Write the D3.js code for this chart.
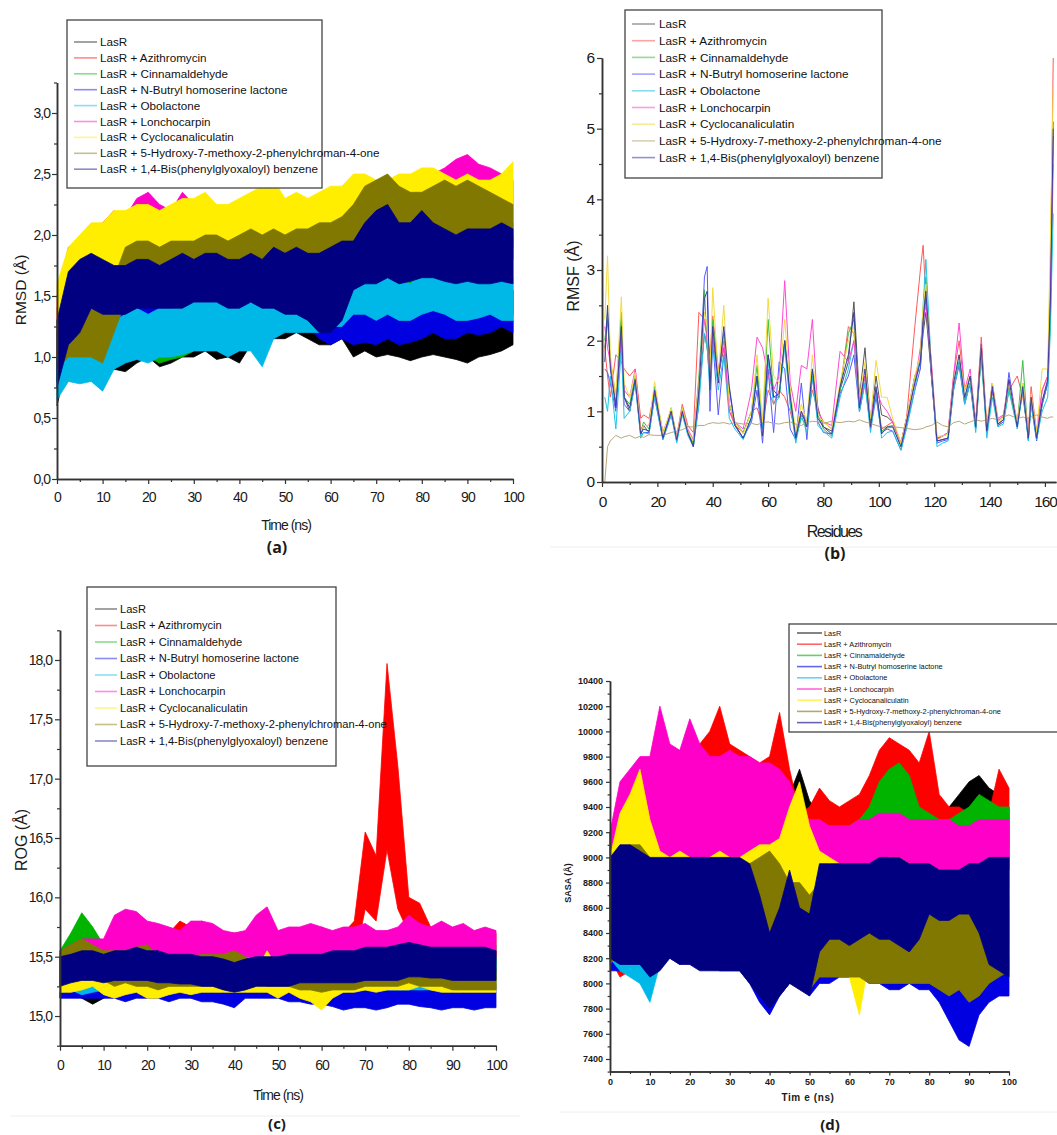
<!DOCTYPE html>
<html>
<head>
<meta charset="utf-8">
<script src="https://cdn.jsdelivr.net/npm/d3@7"></script>
<style>
  body { margin: 0; background: #fff; }
  svg { display: block; font-family: Arial, "Liberation Sans", sans-serif; }
</style>
</head>
<body>
<svg id="fig" width="1057" height="1135"></svg>
<script>
// ---------- shared ----------
const seriesNames = [
  'LasR',
  'LasR + Azithromycin',
  'LasR + Cinnamaldehyde',
  'LasR + N-Butryl homoserine lactone',
  'LasR + Obolactone',
  'LasR + Lonchocarpin',
  'LasR + Cyclocanaliculatin',
  'LasR + 5-Hydroxy-7-methoxy-2-phenylchroman-4-one',
  'LasR + 1,4-Bis(phenylglyoxaloyl) benzene'
];
const bandColors = ['#000000', '#ff0000', '#00b400', '#0000e0', '#00b8e8', '#ff00c8', '#ffee00', '#807800', '#000080'];
const lineColors = ['#555555', '#ff5a5a', '#3cc03c', '#5a5aff', '#20c4e4', '#ff4ad4', '#f2dc40', '#b8a878', '#3c3ca0'];

// time samples (ns) for the trajectory panels
const timeNs = [0, 2.5, 5, 7.5, 10, 12.5, 15, 17.5, 20, 22.5, 25, 27.5, 30, 32.5, 35, 37.5, 40, 42.5, 45, 47.5,
  50, 52.5, 55, 57.5, 60, 62.5, 65, 67.5, 70, 72.5, 75, 77.5, 80, 82.5, 85, 87.5, 90, 92.5, 95, 97.5, 100];

// ---------- (a) RMSD, lower / upper envelope per series ----------
const rmsdLow = [
  [0.6,1.0,1.0,0.95,0.9,0.9,0.88,0.95,1.0,0.92, 0.95,1.0,1.0,1.05,0.98,1.0,0.95,1.1,1.1,1.15, 1.15,1.2,1.15,1.1,1.1,1.15,1.0,1.05,1.0,1.02, 1.0,0.97,1.0,1.02,1.0,0.98,0.95,1.0,1.02,1.05, 1.1],
  [0.9,1.4,1.5,1.5,1.5,1.55,1.5,1.6,1.55,1.55, 1.6,1.6,1.6,1.6,1.6,1.55,1.6,1.65,1.65,1.7, 1.7,1.75,1.7,1.7,1.7,1.75,1.7,1.75,1.75,1.8, 1.75,1.75,1.8,1.85,1.8,1.85,1.85,1.8,1.8,1.85, 1.8],
  [0.8,1.0,1.05,1.0,1.0,1.05,1.0,1.05,1.0,0.95, 0.98,1.0,1.05,1.1,1.1,1.1,1.1,1.2,1.2,1.25, 1.25,1.3,1.25,1.2,1.2,1.25,1.2,1.25,1.3,1.3, 1.3,1.3,1.35,1.35,1.3,1.35,1.35,1.3,1.4,1.4, 1.35],
  [0.8,1.1,1.15,1.1,1.15,1.2,1.2,1.25,1.2,1.2, 1.25,1.25,1.25,1.3,1.3,1.25,1.3,1.3,1.3,1.35, 1.3,1.3,1.25,1.15,1.1,1.15,1.1,1.12,1.1,1.15, 1.1,1.12,1.15,1.2,1.15,1.15,1.2,1.18,1.2,1.25, 1.2],
  [0.65,0.8,0.78,0.8,0.72,0.9,0.95,0.98,0.95,1.0, 1.0,1.02,1.05,1.05,1.05,1.0,1.05,1.05,0.92,1.15, 1.2,1.2,1.2,1.2,1.25,1.25,1.35,1.35,1.3,1.35, 1.3,1.3,1.35,1.38,1.35,1.3,1.3,1.32,1.35,1.3, 1.3],
  [1.0,1.45,1.5,1.5,1.6,1.65,1.6,1.7,1.75,1.7, 1.7,1.75,1.7,1.7,1.65,1.6,1.65,1.6,1.6,1.6, 1.6,1.65,1.6,1.6,1.6,1.65,1.7,1.75,1.75,1.75, 1.8,1.8,1.85,1.9,1.95,2.0,2.0,1.95,1.95,1.9, 1.9],
  [1.0,1.4,1.5,1.55,1.6,1.65,1.7,1.75,1.75,1.7, 1.75,1.8,1.8,1.8,1.75,1.75,1.8,1.8,1.85,1.85, 1.8,1.8,1.75,1.8,1.85,1.85,1.9,1.95,1.95,1.9, 1.95,2.0,2.0,2.0,2.0,1.95,1.95,1.95,1.95,2.0, 2.0],
  [0.9,1.0,1.0,1.0,0.95,1.2,1.45,1.5,1.5,1.5, 1.55,1.55,1.55,1.6,1.6,1.6,1.65,1.7,1.65,1.65, 1.6,1.65,1.65,1.7,1.7,1.75,1.8,1.85,1.9,1.9, 1.9,1.85,1.85,1.9,1.95,1.95,1.95,1.9,1.9,1.9, 1.85],
  [0.75,1.1,1.2,1.4,1.35,1.35,1.35,1.4,1.4,1.4, 1.4,1.4,1.45,1.45,1.45,1.4,1.4,1.45,1.4,1.4, 1.35,1.35,1.3,1.2,1.2,1.3,1.55,1.6,1.6,1.65, 1.6,1.62,1.65,1.65,1.62,1.6,1.62,1.6,1.6,1.62, 1.6]
];
const rmsdHigh = [
  [1.0,1.3,1.35,1.3,1.25,1.25,1.2,1.3,1.3,1.25, 1.3,1.35,1.3,1.35,1.3,1.3,1.3,1.4,1.4,1.45, 1.45,1.5,1.45,1.45,1.4,1.45,1.3,1.35,1.3,1.35, 1.3,1.3,1.35,1.35,1.3,1.3,1.3,1.3,1.35,1.35, 1.3],
  [1.4,1.8,1.85,1.9,1.9,1.95,1.9,2.0,1.95,1.95, 2.0,2.0,2.0,2.0,2.0,1.95,2.0,2.05,2.05,2.1, 2.1,2.1,2.05,2.05,2.05,2.1,2.0,2.05,2.1,2.1, 2.05,2.1,2.15,2.2,2.15,2.2,2.2,2.15,2.1,2.15, 2.1],
  [1.2,1.4,1.45,1.4,1.35,1.4,1.4,1.45,1.4,1.35, 1.4,1.4,1.45,1.5,1.5,1.5,1.5,1.6,1.6,1.65, 1.65,1.7,1.6,1.6,1.6,1.65,1.7,1.8,1.85,1.8, 1.8,1.75,1.8,1.8,1.75,1.8,1.8,1.85,1.9,1.95, 1.85],
  [1.2,1.5,1.55,1.5,1.55,1.6,1.6,1.65,1.6,1.6, 1.65,1.65,1.65,1.7,1.7,1.65,1.7,1.7,1.7,1.75, 1.7,1.7,1.65,1.6,1.55,1.6,1.5,1.55,1.5,1.55, 1.5,1.5,1.55,1.6,1.5,1.5,1.55,1.55,1.55,1.6, 1.55],
  [1.0,1.15,1.2,1.2,1.15,1.3,1.35,1.4,1.35,1.4, 1.4,1.45,1.5,1.45,1.45,1.4,1.45,1.45,1.4,1.5, 1.55,1.5,1.5,1.5,1.55,1.6,1.65,1.7,1.6,1.7, 1.65,1.6,1.7,1.72,1.68,1.65,1.65,1.68,1.7,1.65, 1.65],
  [1.5,1.9,1.95,2.0,2.1,2.2,2.15,2.3,2.35,2.25, 2.2,2.35,2.25,2.2,2.15,2.1,2.15,2.1,2.05,2.1, 2.05,2.1,2.05,2.05,2.1,2.2,2.3,2.35,2.3,2.3, 2.3,2.35,2.4,2.5,2.55,2.62,2.66,2.58,2.55,2.5, 2.45],
  [1.6,1.9,2.0,2.1,2.1,2.2,2.2,2.25,2.25,2.2, 2.25,2.3,2.3,2.35,2.25,2.25,2.3,2.35,2.4,2.45, 2.3,2.35,2.3,2.35,2.4,2.4,2.5,2.5,2.45,2.45, 2.5,2.5,2.55,2.55,2.5,2.45,2.5,2.45,2.45,2.5, 2.6],
  [1.3,1.45,1.5,1.45,1.4,1.65,1.9,1.95,1.95,1.9, 1.95,1.95,1.95,2.0,2.0,1.95,2.0,2.05,2.0,2.05, 2.0,2.05,2.05,2.1,2.1,2.15,2.25,2.4,2.45,2.5, 2.4,2.35,2.35,2.4,2.45,2.4,2.45,2.4,2.35,2.3, 2.25],
  [1.3,1.7,1.8,1.85,1.8,1.75,1.75,1.8,1.8,1.75, 1.8,1.85,1.8,1.85,1.85,1.8,1.8,1.85,1.8,1.9, 1.85,1.9,1.85,1.85,1.9,1.95,1.95,2.1,2.2,2.25, 2.1,2.1,2.2,2.1,2.05,2.0,2.05,2.05,2.05,2.1, 2.05]
];

// ---------- (b) RMSF per residue ----------
const residues = [1,2,3,5,7,8,10,12,14,15, 17,19,22,25,27,29,31,33,35,37, 38,39,40,42,44,46,48,51,54,56,
  58,60,62,64,66,68,70,72,74,76, 78,80,83,86,89,91,93,95,97,99, 101,103,105,108,110,113,115,116,117,119,
  121,123,125,127,129,131,133,135,137,139, 141,143,145,147,150,152,154,155,157,159, 161,162,163];
const rmsfValues = [
  [1.9,2.3,1.7,1.1,2.3,1.2,1.0,1.45,0.68,0.8, 0.7,1.25,0.62,1.0,0.58,1.05,0.72,0.52,1.25,2.1, 1.9,1.5,2.0,1.5,1.9,1.1,0.82,0.62,0.9,1.5,
   0.75,1.8,1.3,1.2,2.0,1.25,0.6,0.95,0.85,1.6, 1.05,0.78,0.72,1.3,1.7,2.55,1.2,1.9,0.85,1.5, 0.95,0.92,0.85,0.55,0.9,1.5,1.7,2.1,2.4,1.5,
   0.58,0.6,0.62,1.35,1.7,1.15,1.4,0.78,1.8,0.72, 1.3,0.82,0.88,1.35,0.82,1.3,0.62,1.15,0.62,1.1, 1.4,2.4,4.9],
  [1.9,1.5,1.2,1.8,1.7,1.6,1.5,1.6,0.9,0.95, 0.9,1.3,0.7,1.0,0.65,1.1,0.8,0.7,2.4,2.3, 2.1,1.8,2.35,1.6,1.9,1.0,0.8,0.7,1.0,1.05,
   0.8,1.3,1.1,1.3,1.2,1.0,0.7,1.0,0.85,1.3, 1.0,0.85,0.75,1.3,2.2,2.1,1.2,1.5,0.8,1.3, 0.75,0.8,0.85,0.55,0.9,2.2,3.0,3.35,2.6,1.5,
   0.6,0.65,0.7,1.5,2.0,1.3,1.5,0.85,2.05,0.8, 1.3,0.85,0.95,1.3,1.5,1.2,0.7,1.35,0.7,1.3, 1.5,3.0,6.0],
  [2.0,2.4,1.7,1.2,2.4,1.2,1.1,1.5,0.7,0.85, 0.75,1.35,0.65,1.05,0.6,1.0,0.72,0.55,1.5,2.72, 1.9,1.4,2.3,1.5,2.1,1.1,0.85,0.7,1.0,1.65,
   0.78,2.3,1.2,1.2,2.0,1.1,0.62,0.9,0.8,1.5, 0.95,0.75,0.65,1.3,2.1,2.3,1.0,1.5,0.8,1.3, 0.72,0.78,0.8,0.5,0.8,1.5,1.6,2.2,2.9,1.55,
   0.62,0.65,0.68,1.4,1.7,1.15,1.5,0.8,1.8,0.75, 1.4,0.8,0.85,1.3,0.8,1.72,0.6,1.2,0.62,1.1, 1.4,2.3,4.5],
  [1.6,1.55,1.4,1.0,2.0,1.1,1.0,1.4,0.65,0.7, 0.7,1.2,0.6,0.95,0.58,1.0,0.68,0.5,1.1,2.9, 3.05,1.0,2.0,0.95,1.8,1.3,0.8,0.62,0.85,1.3,
   0.55,1.6,0.7,1.7,1.6,0.75,0.6,1.4,0.6,1.5, 0.85,0.7,0.68,1.25,1.5,1.8,1.0,1.4,0.75,1.2, 0.7,0.75,0.72,0.45,0.8,1.3,1.6,2.2,2.6,1.5,
   0.55,0.58,0.6,1.3,1.65,1.1,1.4,0.75,1.95,0.7, 1.3,0.8,0.85,1.55,0.78,1.3,0.6,1.1,0.58,1.1, 1.4,2.6,5.1],
  [1.2,1.0,1.5,0.75,1.9,0.9,1.0,1.4,0.62,0.7, 0.68,1.2,0.6,0.95,0.55,0.95,0.66,0.5,1.1,2.1, 1.9,1.3,2.0,1.3,1.8,0.9,0.75,0.6,0.9,1.5,
   0.75,1.7,1.1,1.2,1.9,1.1,0.55,0.95,0.7,1.5, 0.8,0.72,0.62,1.2,1.6,2.0,1.0,1.4,0.7,1.3, 0.62,0.7,0.72,0.45,0.75,1.3,1.8,2.5,3.15,1.6,
   0.5,0.55,0.58,1.3,1.7,1.1,1.4,0.7,1.8,0.62, 1.2,0.78,0.82,1.3,0.75,1.3,0.58,1.1,0.6,1.0, 1.2,2.2,3.8],
  [2.2,1.9,1.7,1.2,2.1,1.3,1.2,1.6,0.75,0.8, 0.8,1.3,0.7,1.0,0.65,1.0,0.75,0.6,1.4,2.3, 2.0,1.5,2.1,1.5,2.0,1.0,0.85,0.75,1.3,2.05,
   1.9,1.5,1.3,1.5,2.85,1.4,1.0,1.65,1.6,2.3, 1.0,0.85,0.8,1.85,1.7,2.0,1.1,1.5,0.9,1.3, 1.1,1.0,0.85,0.55,0.9,1.4,1.9,2.3,2.5,1.7,
   0.62,0.65,0.7,1.5,2.25,1.3,1.6,0.85,1.9,0.78, 1.4,0.9,0.95,1.45,0.85,1.4,0.7,1.25,0.68,1.3, 1.5,2.8,4.8],
  [2.3,3.2,1.8,1.2,2.62,1.4,1.2,1.55,0.72,0.8, 0.8,1.42,0.68,1.05,0.62,1.05,0.72,0.58,1.4,2.4, 2.2,1.5,2.75,1.5,2.5,1.1,0.85,0.68,1.0,1.8,
   0.85,2.6,1.5,1.4,2.3,1.3,0.7,1.1,0.85,1.8, 0.95,0.85,0.75,1.4,2.0,2.2,1.2,1.7,0.9,1.72, 1.2,1.2,0.9,0.55,0.9,1.5,1.8,2.5,2.8,1.6,
   0.65,0.65,0.68,1.4,1.8,1.3,1.5,0.8,1.9,0.78, 1.4,0.85,0.9,1.4,0.85,1.4,0.68,1.25,0.7,1.6, 1.6,3.5,5.6],
  [0.0,0.5,0.58,0.66,0.62,0.64,0.66,0.62,0.65,0.63, 0.67,0.66,0.66,0.7,0.72,0.74,0.78,0.78,0.8,0.8, 0.82,0.83,0.84,0.83,0.84,0.82,0.84,0.82,0.83,0.81,
   0.84,0.85,0.83,0.82,0.84,0.85,0.82,0.8,0.84,0.86, 0.85,0.83,0.86,0.84,0.86,0.85,0.88,0.85,0.83,0.8, 0.78,0.76,0.78,0.77,0.76,0.74,0.75,0.76,0.78,0.8,
   0.85,0.8,0.78,0.84,0.86,0.82,0.85,0.88,0.86,0.88, 0.9,0.88,0.92,0.95,0.9,0.92,0.9,0.92,0.95,0.92, 0.9,0.92,0.92],
  [1.7,2.5,1.6,1.05,2.2,1.2,1.05,1.45,0.68,0.75, 0.72,1.3,0.62,1.0,0.6,1.0,0.7,0.5,1.3,2.6, 2.7,1.3,2.2,1.4,2.2,1.35,0.8,0.62,0.92,1.5,
   0.65,1.8,1.2,1.25,2.0,1.2,0.62,1.0,0.78,1.6, 0.9,0.78,0.68,1.35,1.8,2.4,1.05,1.6,0.78,1.35, 0.68,0.78,0.78,0.5,0.85,1.4,1.7,2.3,2.7,1.6,
   0.58,0.6,0.62,1.4,1.8,1.2,1.5,0.78,1.9,0.72, 1.35,0.82,0.88,1.45,0.78,1.35,0.62,1.2,0.62,1.15, 1.45,2.6,5.0]
];

// ---------- (c) ROG ----------
const rogLow = [
  [15.15,15.2,15.15,15.1,15.15,15.2,15.2,15.2,15.2,15.2, 15.2,15.2,15.2,15.2,15.2,15.2,15.18,15.2,15.2,15.2, 15.2,15.2,15.2,15.2,15.2,15.2,15.2,15.2,15.22,15.22, 15.22,15.25,15.25,15.22,15.22,15.22,15.22,15.22,15.22,15.22, 15.22],
  [15.2,15.3,15.35,15.35,15.35,15.4,15.4,15.4,15.4,15.4, 15.4,15.4,15.4,15.4,15.4,15.4,15.4,15.4,15.4,15.4, 15.4,15.4,15.4,15.4,15.4,15.4,15.4,15.45,15.9,15.8, 16.4,15.9,15.7,15.6,15.5,15.45,15.45,15.45,15.45,15.45, 15.45],
  [15.3,15.4,15.55,15.5,15.3,15.3,15.3,15.3,15.3,15.3, 15.3,15.3,15.3,15.3,15.3,15.3,15.3,15.3,15.3,15.3, 15.3,15.3,15.3,15.3,15.3,15.3,15.3,15.3,15.35,15.35, 15.35,15.35,15.35,15.3,15.3,15.3,15.3,15.3,15.3,15.3, 15.3],
  [15.15,15.15,15.15,15.15,15.15,15.15,15.12,15.15,15.15,15.15, 15.12,15.15,15.15,15.12,15.12,15.1,15.07,15.15,15.15,15.15, 15.15,15.12,15.12,15.1,15.1,15.08,15.05,15.07,15.07,15.05, 15.07,15.1,15.1,15.08,15.07,15.05,15.07,15.07,15.05,15.07, 15.07],
  [15.2,15.22,15.18,15.2,15.22,15.22,15.22,15.22,15.22,15.22, 15.22,15.22,15.22,15.22,15.22,15.22,15.2,15.22,15.22,15.22, 15.22,15.22,15.22,15.22,15.2,15.2,15.2,15.22,15.22,15.22, 15.22,15.22,15.22,15.22,15.22,15.22,15.22,15.22,15.22,15.22, 15.22],
  [15.4,15.45,15.48,15.48,15.48,15.5,15.5,15.52,15.5,15.5, 15.5,15.48,15.48,15.5,15.5,15.48,15.48,15.5,15.5,15.5, 15.48,15.48,15.5,15.48,15.48,15.5,15.5,15.5,15.5,15.5, 15.52,15.5,15.55,15.5,15.5,15.5,15.5,15.5,15.5,15.5, 15.5],
  [15.2,15.2,15.22,15.25,15.18,15.15,15.18,15.2,15.15,15.15, 15.18,15.2,15.18,15.2,15.2,15.2,15.2,15.2,15.2,15.2, 15.15,15.2,15.15,15.12,15.05,15.15,15.2,15.2,15.22,15.2, 15.22,15.22,15.22,15.25,15.22,15.2,15.2,15.2,15.2,15.2, 15.2],
  [15.25,15.35,15.4,15.4,15.3,15.25,15.28,15.25,15.25,15.22, 15.25,15.25,15.25,15.25,15.25,15.25,15.3,15.35,15.3,15.25, 15.25,15.25,15.22,15.22,15.2,15.22,15.22,15.22,15.25,15.25, 15.25,15.25,15.28,15.25,15.25,15.25,15.22,15.22,15.22,15.22, 15.22],
  [15.25,15.28,15.3,15.3,15.28,15.3,15.3,15.3,15.3,15.28, 15.28,15.27,15.27,15.25,15.25,15.22,15.2,15.22,15.25,15.25, 15.25,15.25,15.28,15.28,15.28,15.28,15.28,15.28,15.3,15.3, 15.3,15.3,15.33,15.33,15.32,15.32,15.3,15.3,15.3,15.3, 15.3]
];
const rogHigh = [
  [15.5,15.55,15.55,15.55,15.5,15.5,15.52,15.5,15.5,15.5, 15.5,15.5,15.5,15.5,15.48,15.5,15.48,15.5,15.5,15.5, 15.5,15.5,15.5,15.5,15.48,15.5,15.5,15.5,15.55,15.55, 15.55,15.55,15.6,15.55,15.55,15.55,15.55,15.55,15.55,15.55, 15.55],
  [15.45,15.55,15.6,15.6,15.6,15.65,15.65,15.65,15.7,15.65, 15.7,15.8,15.75,15.8,15.75,15.7,15.7,15.7,15.7,15.7, 15.65,15.7,15.7,15.7,15.75,15.7,15.7,15.8,16.55,16.35, 17.97,17.1,16.0,15.95,15.75,15.7,15.7,15.7,15.7,15.7, 15.7],
  [15.55,15.7,15.87,15.75,15.6,15.6,15.6,15.6,15.6,15.6, 15.6,15.6,15.6,15.6,15.6,15.6,15.6,15.6,15.62,15.6, 15.6,15.6,15.6,15.6,15.6,15.6,15.65,15.7,15.72,15.7, 15.72,15.68,15.65,15.6,15.6,15.6,15.6,15.6,15.6,15.6, 15.6],
  [15.4,15.4,15.4,15.4,15.4,15.4,15.38,15.38,15.38,15.35, 15.35,15.35,15.35,15.35,15.35,15.35,15.3,15.35,15.35,15.35, 15.35,15.35,15.32,15.3,15.3,15.3,15.28,15.28,15.3,15.3, 15.3,15.32,15.32,15.3,15.28,15.28,15.28,15.27,15.27,15.27, 15.27],
  [15.45,15.45,15.45,15.45,15.45,15.48,15.48,15.48,15.48,15.48, 15.48,15.5,15.5,15.5,15.5,15.5,15.48,15.5,15.5,15.5, 15.5,15.5,15.5,15.5,15.48,15.48,15.48,15.5,15.5,15.5, 15.5,15.5,15.5,15.5,15.5,15.5,15.5,15.5,15.5,15.5, 15.5],
  [15.55,15.6,15.65,15.65,15.65,15.85,15.9,15.88,15.8,15.78, 15.75,15.72,15.8,15.8,15.78,15.72,15.7,15.72,15.85,15.92, 15.72,15.75,15.75,15.78,15.75,15.72,15.75,15.75,15.78,15.72, 15.72,15.75,15.85,15.78,15.75,15.8,15.75,15.78,15.72,15.75, 15.72],
  [15.5,15.55,15.6,15.58,15.4,15.38,15.45,15.42,15.38,15.35, 15.38,15.38,15.38,15.38,15.38,15.35,15.4,15.38,15.38,15.55, 15.4,15.38,15.38,15.35,15.3,15.35,15.38,15.38,15.4,15.4, 15.4,15.4,15.42,15.4,15.4,15.4,15.38,15.38,15.38,15.38, 15.38],
  [15.55,15.6,15.65,15.6,15.55,15.55,15.55,15.58,15.6,15.5, 15.5,15.5,15.5,15.52,15.52,15.52,15.55,15.5,15.45,15.45, 15.42,15.45,15.42,15.4,15.38,15.4,15.42,15.42,15.42,15.42, 15.42,15.42,15.45,15.42,15.42,15.4,15.4,15.4,15.4,15.4, 15.4],
  [15.5,15.52,15.55,15.55,15.52,15.55,15.55,15.58,15.55,15.55, 15.52,15.52,15.52,15.5,15.5,15.48,15.45,15.48,15.5,15.5, 15.5,15.52,15.52,15.52,15.52,15.55,15.55,15.55,15.58,15.58, 15.58,15.6,15.62,15.6,15.58,15.58,15.58,15.58,15.58,15.58, 15.55]
];

// ---------- (d) SASA ----------
const sasaLow = [
  [8600,8600,8650,8700,8700,8700,8700,8700,8750,8700, 8700,8700,8700,8650,8650,8700,8700,8750,8800,8900, 8750,8700,8700,8700,8700,8700,8650,8700,8700,8700, 8700,8700,8700,8700,8750,8800,8850,8900,8850,8800, 8750],
  [8200,8050,8100,8300,8600,8700,8700,8750,8800,8850, 8900,8900,8900,8900,8850,8850,8800,8850,8700,8600, 8600,8650,8600,8650,8700,8700,8750,8800,8900,8900, 8900,8850,8850,8700,8700,8700,8700,8700,8700,8700, 8700],
  [8400,8500,8500,8500,8550,8550,8550,8550,8550,8550, 8600,8600,8600,8600,8600,8600,8600,8650,8600,8600, 8550,8550,8550,8550,8550,8600,8700,8800,8900,8950, 8900,8700,8650,8600,8600,8600,8650,8650,8650,8600, 8600],
  [8100,8100,8150,8100,8150,8200,8200,8150,8200,8150, 8150,8100,8100,8100,8000,7850,7750,7900,8000,8000, 7900,8000,8000,8050,8050,8050,8000,8000,7950,7950, 8000,7950,7950,7850,7700,7550,7500,7750,7850,7900, 7900],
  [8200,8100,8050,8000,7850,8150,8200,8200,8150,8200, 8250,8250,8250,8250,8200,8200,8200,8200,8300,8400, 8350,8300,8300,8300,8300,8300,8300,8350,8350,8350, 8300,8300,8300,8300,8300,8300,8300,8300,8300,8300, 8300],
  [8500,8600,8700,8800,8850,8900,8900,8950,8950,8950, 8900,8900,8900,8900,8900,8850,8850,8800,8750,8700, 8650,8650,8650,8650,8650,8650,8650,8700,8700,8700, 8700,8700,8700,8700,8700,8700,8700,8700,8700,8700, 8700],
  [8300,8400,8400,8350,8300,8350,8300,8300,8250,8250, 8200,8250,8200,8200,8250,8300,8300,8400,8700,8700, 8500,8300,8300,8200,8050,7750,8200,8250,8250,8250, 8250,8250,8250,8300,8350,8300,8300,8250,8200,8200, 8200],
  [8150,8250,8250,8250,8200,8250,8200,8200,8200,8150, 8150,8150,8150,8150,8100,8250,8300,8250,8100,8000, 7950,8050,8050,8050,8050,8050,8000,8000,8000,8000, 8000,8000,8000,7950,7900,7950,7850,7900,8000,8050, 8100],
  [8200,8150,8150,8150,8050,8100,8200,8150,8150,8100, 8100,8100,8100,8100,8000,7900,7800,7900,8000,7950, 7900,8250,8350,8350,8300,8350,8400,8350,8350,8300, 8250,8350,8550,8500,8500,8550,8550,8400,8150,8100, 8050]
];
const sasaHigh = [
  [9200,9300,9300,9350,9300,9300,9300,9300,9350,9300, 9300,9300,9300,9300,9300,9300,9300,9350,9500,9700, 9450,9350,9300,9300,9300,9300,9300,9300,9350,9350, 9300,9350,9350,9300,9400,9500,9600,9650,9550,9500, 9400],
  [9100,9300,9350,9400,9500,9500,9500,9600,9700,9900, 10000,10200,9900,9850,9800,9750,9800,10150,9700,9350, 9400,9550,9450,9400,9450,9500,9650,9850,9950,9900, 9850,9750,10000,9500,9400,9400,9350,9350,9350,9700, 9550],
  [9200,9250,9300,9300,9300,9300,9300,9350,9350,9300, 9300,9300,9300,9350,9300,9300,9300,9300,9300,9250, 9200,9250,9250,9250,9250,9300,9400,9600,9700,9750, 9650,9400,9350,9300,9300,9350,9400,9500,9450,9400, 9400],
  [8900,8900,8900,8850,8900,8900,8900,8850,8850,8850, 8850,8800,8800,8800,8750,8700,8650,8700,8750,8800, 8750,8800,8800,8800,8800,8800,8750,8750,8750,8750, 8750,8700,8650,8600,8500,8450,8400,8500,8550,8600, 8600],
  [9000,9050,9100,9050,9000,9050,9050,9050,9050,9050, 9050,9050,9000,9050,9000,9000,9000,9050,9100,9100, 9150,9300,9200,9100,9100,9100,9100,9150,9200,9200, 9150,9100,9100,9100,9100,9100,9100,9100,9100,9100, 9100],
  [9200,9600,9700,9800,9800,10200,9900,9850,10100,9900, 9800,9800,9850,9800,9800,9750,9750,9700,9600,9400, 9300,9300,9250,9250,9250,9300,9300,9350,9350,9350, 9300,9300,9300,9300,9300,9250,9250,9300,9300,9300, 9300],
  [9000,9350,9500,9700,9300,9050,9000,9050,9000,8950, 9000,9050,9000,9000,9050,9100,9100,9150,9400,9600, 9250,9050,9000,8950,8900,8850,8950,8950,9000,9000, 8950,8900,8950,8850,8800,8850,8800,8800,8850,8900, 8900],
  [8800,9000,9100,9100,9000,8950,8900,8900,8900,8850, 8850,8900,8900,8900,8950,9000,9050,8950,8800,8800, 8700,8800,8800,8800,8750,8750,8800,8800,8800,8750, 8700,8650,8600,8600,8700,8650,8600,8550,8650,8700, 8700],
  [9000,9100,9100,9050,9000,9000,9000,9000,9000,9000, 9000,9000,9000,9000,8950,8700,8400,8600,8900,8600, 8550,8950,8950,8950,8950,8950,8950,9000,9000,9000, 8950,8950,8950,8900,8900,8900,8950,8950,9000,9000, 9000]
];

// ---------- helpers ----------
const svg = d3.select('#fig');
const commaFmt = (f) => (d) => d3.format(f)(d).replace('.', ',');

function drawAxes(g, x, y, o) {
  const y0 = y.range()[0];
  const x0 = x.range()[0];
  const xMain = g.append('g').attr('transform', `translate(0,${y0})`)
    .call(d3.axisBottom(x).tickValues(o.xMajor).tickSize(o.tick).tickSizeOuter(0).tickPadding(o.xPad).tickFormat(o.xFmt));
  g.append('g').attr('transform', `translate(0,${y0})`)
    .call(d3.axisBottom(x).tickValues(o.xMinor).tickSize(o.tick * 0.6).tickSizeOuter(0).tickFormat(''));
  const yMain = g.append('g').attr('transform', `translate(${x0},0)`)
    .call(d3.axisLeft(y).tickValues(o.yMajor).tickSize(o.tick).tickSizeOuter(0).tickPadding(o.yPad).tickFormat(o.yFmt));
  g.append('g').attr('transform', `translate(${x0},0)`)
    .call(d3.axisLeft(y).tickValues(o.yMinor).tickSize(o.tick * 0.6).tickSizeOuter(0).tickFormat(''));
  g.selectAll('.domain').attr('stroke', '#333').attr('stroke-width', 1.5);
  g.selectAll('.tick line').attr('stroke', '#333').attr('stroke-width', 1.2);
  [xMain, yMain].forEach((a) => {
    a.attr('font-family', null).attr('font-size', null);
    a.selectAll('text')
      .attr('fill', '#1a1a1a')
      .attr('font-size', o.fs)
      .attr('font-weight', o.fw || 'normal')
      .attr('letter-spacing', o.ls || 0);
  });
}

function drawBands(g, x, y, lows, highs) {
  lows.forEach((lo, i) => {
    const pts = timeNs.map((t, k) => ({ t, lo: lo[k], hi: highs[i][k] }));
    g.append('path')
      .datum(pts)
      .attr('d', d3.area().x((d) => x(d.t)).y0((d) => y(d.lo)).y1((d) => y(d.hi)))
      .attr('fill', bandColors[i])
      .attr('stroke', bandColors[i])
      .attr('stroke-width', 0.8)
      .attr('stroke-linejoin', 'round');
  });
}

function drawLegend(g, o) {
  g.append('rect')
    .attr('x', o.x0).attr('y', o.y0)
    .attr('width', o.x1 - o.x0).attr('height', o.y1 - o.y0)
    .attr('fill', '#fff').attr('stroke', '#444').attr('stroke-width', 1.3);
  const items = g.selectAll('g.item').data(seriesNames).join('g')
    .attr('class', 'item')
    .attr('transform', (d, i) => `translate(0,${o.first + i * o.step})`);
  items.append('line')
    .attr('x1', o.lx0).attr('x2', o.lx1)
    .attr('stroke', (d, i) => o.colors[i])
    .attr('stroke-width', 1.6)
    .attr('opacity', o.opacity);
  const txt = items.append('text')
    .attr('x', o.tx).attr('dy', '0.35em')
    .attr('font-size', 12).attr('fill', '#111')
    .attr('font-weight', o.fw || 'normal')
    .text((d) => d);
  const longest = d3.max(txt.nodes(), (n) => n.getComputedTextLength());
  txt.attr('font-size', (12 * o.width) / longest);
}

function label(g, txt, x, y, o) {
  const t = g.append('text')
    .attr('x', x).attr('y', y)
    .attr('text-anchor', 'middle')
    .attr('font-size', o.fs)
    .attr('font-weight', o.fw || 'normal')
    .attr('letter-spacing', o.ls || 0)
    .attr('fill', '#1a1a1a')
    .text(txt);
  if (o.rotate) t.attr('transform', `rotate(-90,${x},${y})`).attr('dy', '0.35em');
  if (o.family) t.attr('font-family', o.family);
  return t;
}

const ticks = (a, b, s) => d3.range(a, b + s / 2, s);

// faint separators
[[550, 1057, 547], [10, 520, 1116], [560, 1057, 1112]].forEach(([a, b, y]) => {
  svg.append('line').attr('x1', a).attr('x2', b).attr('y1', y).attr('y2', y).attr('stroke', '#eeeeee');
});

// ---------- panel (a) ----------
{
  const g = svg.append('g');
  const x = d3.scaleLinear().domain([0, 100]).range([57, 513]);
  const y = d3.scaleLinear().domain([0, 3.25]).range([479, 82.5]);
  drawBands(g, x, y, rmsdLow, rmsdHigh);
  drawAxes(g, x, y, {
    xMajor: ticks(0, 100, 10), xMinor: ticks(5, 95, 10), yMajor: ticks(0, 3, 0.5), yMinor: ticks(0.25, 3.25, 0.5),
    xFmt: d3.format('d'), yFmt: commaFmt('.1f'), tick: 5, xPad: 8, yPad: 2, fs: 14, ls: -1
  });
  drawLegend(g, { x0: 67, y0: 20, x1: 322, y1: 188, first: 42, step: 15.9, lx0: 74, lx1: 97, tx: 100, width: 280, colors: bandColors, opacity: 0.45 });
  label(g, 'RMSD (Å)', 21, 290, { fs: 15.5, rotate: true });
  label(g, 'Time (ns)', 286, 530, { fs: 14, ls: -1 });
  label(g, '(a)', 277, 553, { fs: 16, fw: 'bold', family: '"Open Sans", Arial, sans-serif' });
}

// ---------- panel (b) ----------
{
  const g = svg.append('g');
  const x = d3.scaleLinear().domain([0, 164]).range([602, 1056]);
  const y = d3.scaleLinear().domain([0, 6]).range([482, 58]);
  const line = d3.line().x((d) => x(d[0])).y((d) => y(d[1]));
  rmsfValues.forEach((vals, i) => {
    g.append('path')
      .datum(residues.map((r, k) => [r, vals[k]]))
      .attr('d', line)
      .attr('fill', 'none')
      .attr('stroke', lineColors[i])
      .attr('stroke-width', 1);
  });
  drawAxes(g, x, y, {
    xMajor: ticks(0, 160, 20), xMinor: ticks(10, 150, 20), yMajor: ticks(0, 6, 1), yMinor: ticks(0.5, 5.5, 1),
    xFmt: d3.format('d'), yFmt: d3.format('d'), tick: 5, xPad: 9, yPad: 3, fs: 15.5, ls: -1.2
  });
  drawLegend(g, { x0: 625, y0: 10, x1: 882, y1: 178, first: 24, step: 16.7, lx0: 632, lx1: 655, tx: 659, width: 283, colors: lineColors, opacity: 0.55 });
  label(g, 'RMSF (Å)', 573, 276, { fs: 16, rotate: true });
  label(g, 'Residues', 834, 537, { fs: 16, ls: -1.5 });
  label(g, '(b)', 835, 559, { fs: 16, fw: 'bold', family: '"Open Sans", Arial, sans-serif' });
}

// ---------- panel (c) ----------
{
  const g = svg.append('g');
  const x = d3.scaleLinear().domain([0, 100]).range([60, 496]);
  const y = d3.scaleLinear().domain([14.75, 18.25]).range([1045.7, 630.3]);
  drawBands(g, x, y, rogLow, rogHigh);
  drawAxes(g, x, y, {
    xMajor: ticks(0, 100, 10), xMinor: ticks(5, 95, 10), yMajor: ticks(15, 18, 0.5), yMinor: ticks(14.75, 18.25, 0.5),
    xFmt: d3.format('d'), yFmt: commaFmt('.1f'), tick: 5, xPad: 9, yPad: 3, fs: 14, ls: -1
  });
  drawLegend(g, { x0: 87, y0: 587, x1: 336, y1: 766, first: 609, step: 16.5, lx0: 95, lx1: 117, tx: 120, width: 267, colors: bandColors, opacity: 0.45 });
  label(g, 'ROG (Å)', 21, 840, { fs: 16, rotate: true });
  label(g, 'Time (ns)', 278, 1100, { fs: 14, ls: -1 });
  label(g, '(c)', 277, 1129, { fs: 15, fw: 'bold', family: '"Open Sans", Arial, sans-serif' });
}

// ---------- panel (d) ----------
{
  const g = svg.append('g');
  const x = d3.scaleLinear().domain([0, 100]).range([610, 1009]);
  const y = d3.scaleLinear().domain([7300, 10400]).range([1071.6, 681]);
  drawBands(g, x, y, sasaLow, sasaHigh);
  drawAxes(g, x, y, {
    xMajor: ticks(0, 100, 10), xMinor: ticks(5, 95, 10), yMajor: ticks(7400, 10400, 200), yMinor: ticks(7300, 10300, 200),
    xFmt: d3.format('d'), yFmt: d3.format('d'), tick: 4, xPad: 3, yPad: 3, fs: 9, fw: 'bold'
  });
  drawLegend(g, { x0: 789, y0: 624, x1: 1062, y1: 732, first: 633, step: 11.2, lx0: 797, lx1: 822, tx: 824, width: 177, colors: bandColors, opacity: 0.6 });
  label(g, 'SASA (Å)', 568, 883, { fs: 9, fw: 'bold', rotate: true });
  label(g, 'Tim e (ns)', 808, 1101, { fs: 10, fw: 'bold', ls: 0.6 });
  label(g, '(d)', 830, 1130, { fs: 15, fw: 'bold', family: '"Open Sans", Arial, sans-serif' });
}
</script>
